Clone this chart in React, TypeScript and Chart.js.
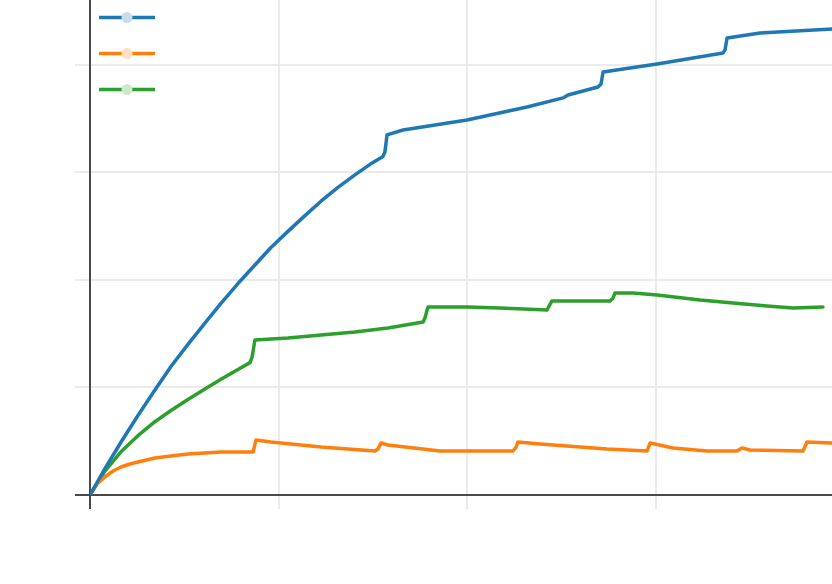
import { useEffect, useRef } from "react";
import { Chart, registerables } from "chart.js";

Chart.register(...registerables);

// Legend labels (the reference shows no legend text)
const seriesLabels = ["", "", ""];
const seriesColors = ["#1f77b4", "#ff7f0e", "#2ca02c"];
const legendMarkerColors = ["#c7ddec", "#ffdfc3", "#caeaca"];

// Axis ticks (no labels shown in the reference)
const xTicks = [0, 1, 2, 3];
const yTicks = [0, 1, 2, 3, 4];
const xMax = 3.932;
const yMax = 4.6;

// Series 1 (blue)
const blueX = [0, 0.079, 0.164, 0.254, 0.344, 0.429, 0.519, 0.609, 0.694, 0.784, 0.874, 0.959, 1.049, 1.139, 1.224, 1.314, 1.404, 1.484, 1.553, 1.563, 1.574, 1.659, 1.998, 2.316, 2.507, 2.533, 2.692, 2.708, 2.719, 3.005, 3.355, 3.365, 3.376, 3.551, 3.95];
const blueY = [0, 0.245, 0.49, 0.739, 0.976, 1.194, 1.4, 1.597, 1.781, 1.965, 2.137, 2.3, 2.45, 2.596, 2.73, 2.859, 2.975, 3.073, 3.146, 3.19, 3.346, 3.392, 3.485, 3.606, 3.69, 3.717, 3.792, 3.82, 3.931, 4.006, 4.108, 4.136, 4.247, 4.294, 4.333];

// Series 2 (orange)
const orangeX = [0, 0.037, 0.079, 0.122, 0.164, 0.212, 0.254, 0.344, 0.429, 0.519, 0.694, 0.864, 0.88, 0.959, 1.224, 1.51, 1.526, 1.542, 1.579, 1.855, 2.242, 2.258, 2.268, 2.385, 2.74, 2.952, 2.968, 3.09, 3.27, 3.429, 3.455, 3.498, 3.778, 3.8, 3.922, 3.95];
const orangeY = [0, 0.102, 0.167, 0.223, 0.26, 0.288, 0.307, 0.344, 0.362, 0.381, 0.4, 0.4, 0.511, 0.493, 0.446, 0.409, 0.428, 0.483, 0.465, 0.409, 0.409, 0.446, 0.493, 0.474, 0.428, 0.409, 0.483, 0.437, 0.409, 0.409, 0.437, 0.418, 0.409, 0.493, 0.483, 0.481];

// Series 3 (green)
const greenX = [0, 0.079, 0.164, 0.254, 0.344, 0.429, 0.519, 0.609, 0.694, 0.784, 0.848, 0.859, 0.874, 1.049, 1.224, 1.404, 1.579, 1.765, 1.775, 1.791, 1.998, 2.173, 2.422, 2.433, 2.448, 2.756, 2.772, 2.782, 2.878, 3.005, 3.233, 3.408, 3.588, 3.725, 3.884];
const greenY = [0, 0.223, 0.401, 0.551, 0.681, 0.785, 0.888, 0.986, 1.075, 1.167, 1.23, 1.283, 1.441, 1.459, 1.487, 1.515, 1.552, 1.608, 1.645, 1.747, 1.747, 1.738, 1.719, 1.757, 1.803, 1.803, 1.831, 1.877, 1.877, 1.859, 1.812, 1.784, 1.757, 1.738, 1.747];

const seriesX = [blueX, orangeX, greenX];
const seriesY = [blueY, orangeY, greenY];

const GRID = "#ebebeb";
const AXIS = "#4a4a4a";

const legendPlugin = {
  id: "lineMarkerLegend",
  afterDatasetsDraw(chart: any) {
    const { ctx, chartArea } = chart;
    chart.data.datasets.forEach((ds: any, i: number) => {
      const y = chartArea.top + 17.5 + i * 36;
      const x0 = chartArea.left + 9;
      ctx.save();
      ctx.strokeStyle = ds.borderColor;
      ctx.lineWidth = 3.3;
      ctx.beginPath();
      ctx.moveTo(x0, y);
      ctx.lineTo(x0 + 56, y);
      ctx.stroke();
      ctx.fillStyle = legendMarkerColors[i];
      ctx.beginPath();
      ctx.arc(x0 + 28, y, 5.5, 0, Math.PI * 2);
      ctx.fill();
      if (ds.label) {
        ctx.fillStyle = "#333";
        ctx.font = "14px 'DejaVu Sans'";
        ctx.textBaseline = "middle";
        ctx.fillText(ds.label, x0 + 64, y);
      }
      ctx.restore();
    });
  },
};

export default function App() {
  const canvasRef = useRef<HTMLCanvasElement | null>(null);

  useEffect(() => {
    const canvas = canvasRef.current;
    if (!canvas) return;
    const datasets = seriesX.map((xs, i) => ({
      label: seriesLabels[i],
      data: xs.map((x, j) => ({ x, y: seriesY[i][j] })),
      borderColor: seriesColors[i],
      backgroundColor: seriesColors[i],
      borderWidth: 3.5,
      pointRadius: 0,
      tension: 0,
      borderJoinStyle: "round" as const,
      borderCapStyle: "round" as const,
    }));
    const gridColor = (c: any) => (c.tick && c.tick.value === 0 ? AXIS : GRID);
    const chart = new Chart(canvas, {
      type: "line",
      data: { datasets },
      plugins: [legendPlugin],
      options: {
        animation: false,
        responsive: false,
        maintainAspectRatio: false,
        layout: { padding: { left: 75, bottom: 75, top: 0, right: 0 } },
        plugins: { legend: { display: false }, tooltip: { enabled: false } },
        scales: {
          x: {
            type: "linear",
            min: 0,
            max: xMax,
            afterBuildTicks: (scale: any) => {
              scale.ticks = xTicks.map((v) => ({ value: v }));
            },
            ticks: { display: false },
            grid: { color: gridColor, lineWidth: 2, tickLength: 14 },
            border: { color: AXIS, width: 2 },
          },
          y: {
            type: "linear",
            min: 0,
            max: yMax,
            afterBuildTicks: (scale: any) => {
              scale.ticks = yTicks.map((v) => ({ value: v }));
            },
            ticks: { display: false },
            grid: { color: gridColor, lineWidth: 2, tickLength: 15 },
            border: { color: AXIS, width: 2 },
          },
        },
      },
    });
    return () => chart.destroy();
  }, []);

  return (
    <canvas
      ref={canvasRef}
      width={832}
      height={584}
      style={{ position: "fixed", left: 0, top: 0, width: 832, height: 584, display: "block", background: "#fff" }}
    />
  );
}
